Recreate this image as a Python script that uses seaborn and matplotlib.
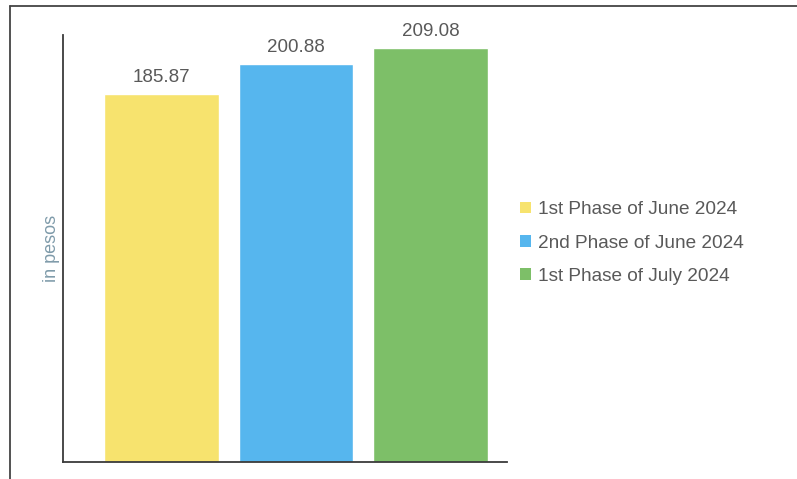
import pandas as pd
import matplotlib
matplotlib.use("Agg")
import matplotlib.pyplot as plt
import seaborn as sns
from matplotlib.patches import Patch
from matplotlib.lines import Line2D

# data
phases = ["1st Phase of June 2024", "2nd Phase of June 2024", "1st Phase of July 2024"]
prices = [185.87, 200.88, 209.08]
colors = ["#F7E36E", "#56B6EE", "#7DBF68"]

sns.set_theme(style="white")
plt.rcParams["font.family"] = ["Liberation Sans", "DejaVu Sans"]

df = pd.DataFrame({"phase": phases, "price": prices})

fig = plt.figure(figsize=(7.97, 4.79), dpi=100)
ax = fig.add_axes([63 / 797, 1 - 462 / 479, 444 / 797, 427 / 479])

sns.barplot(data=df, x="phase", y="price", hue="phase", palette=colors,
            width=0.85, saturation=1, legend=False, ax=ax)

for i, v in enumerate(prices):
    ax.text(i, v + 4, f"{v:.2f}", ha="center", va="bottom",
            fontsize=13.5, color="#595959")

ax.set_xlim(-0.73, 2.567)
ax.set_ylim(0, 215.7)
ax.set_xticks([])
ax.set_yticks([])
ax.set_xlabel("")
ax.set_ylabel("in pesos", fontsize=13, color="#7F9BAA", labelpad=2)

for side in ["top", "right"]:
    ax.spines[side].set_visible(False)
for side in ["left", "bottom"]:
    ax.spines[side].set_color("#3a3a3a")
    ax.spines[side].set_linewidth(1.3)

handles = [Patch(facecolor=c, edgecolor="none") for c in colors]
fig.legend(handles, phases, loc="center left", bbox_to_anchor=(503 / 797, 1 - 243 / 479),
           frameon=False, fontsize=13.7, labelcolor="#595959",
           handlelength=0.55, handleheight=0.55, handletextpad=0.4, labelspacing=0.85)

# outer frame of the scanned page
fig.add_artist(Line2D([10 / 797, 10 / 797], [0, 1 - 6 / 479], transform=fig.transFigure,
                      color="#444444", linewidth=1.3))
fig.add_artist(Line2D([10 / 797, 1], [1 - 6 / 479, 1 - 6 / 479], transform=fig.transFigure,
                      color="#444444", linewidth=1.3))

fig.savefig("out.png", dpi=100)
